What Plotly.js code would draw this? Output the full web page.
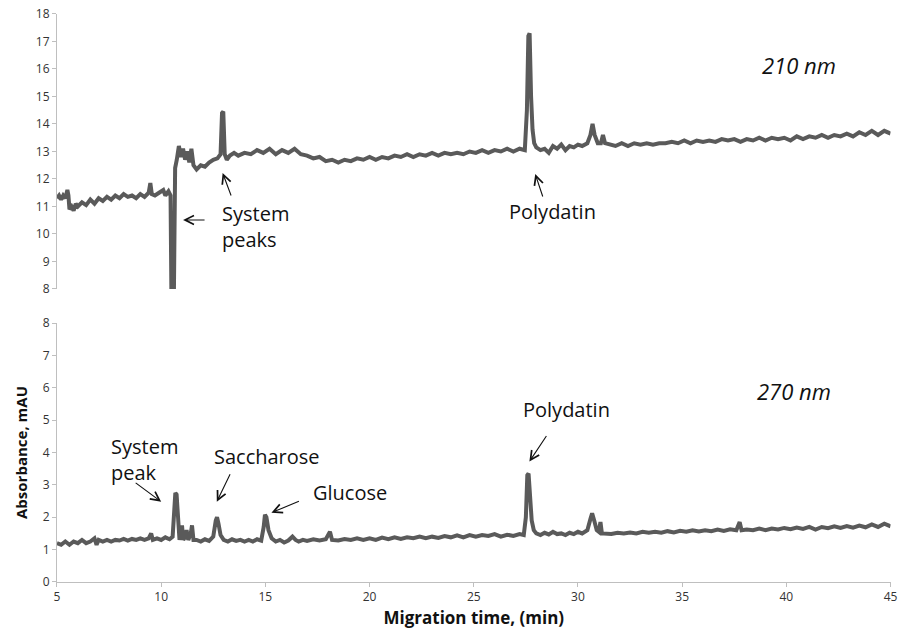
<!DOCTYPE html>
<html>
<head>
<meta charset="utf-8">
<script src="https://cdn.plot.ly/plotly-3.0.1.min.js"></script>
<style>html,body{margin:0;padding:0;background:#fff;}#chart{width:900px;height:630px;}</style>
</head>
<body>
<div id="chart"></div>
<script>
// 210 nm trace (top panel)
var time210 = [5.0,5.1,5.2,5.3,5.4,5.5,5.55,5.6,5.7,5.8,5.9,6.0,6.2,6.4,6.6,6.8,7.0,7.2,7.4,7.6,7.8,8.0,8.2,8.4,8.6,8.8,9.0,9.2,9.4,9.48,9.55,9.7,9.9,10.1,10.2,10.35,10.45,10.5,10.6,10.67,10.75,10.85,10.95,11.05,11.15,11.25,11.35,11.45,11.55,11.7,11.9,12.1,12.3,12.5,12.7,12.85,12.92,12.98,13.05,13.15,13.3,13.5,13.7,14.0,14.3,14.6,14.9,15.2,15.5,15.8,16.1,16.4,16.7,17.0,17.3,17.6,17.9,18.2,18.5,18.8,19.1,19.4,19.7,20.0,20.3,20.6,20.9,21.2,21.5,21.8,22.1,22.4,22.7,23.0,23.3,23.6,23.9,24.2,24.5,24.8,25.1,25.4,25.7,26.0,26.3,26.6,26.9,27.2,27.45,27.55,27.62,27.68,27.75,27.82,27.9,28.0,28.2,28.4,28.6,28.8,29.0,29.2,29.4,29.6,29.8,30.0,30.2,30.45,30.6,30.7,30.8,30.95,31.1,31.2,31.3,31.5,31.8,32.1,32.4,32.7,33.0,33.3,33.6,33.9,34.2,34.5,34.8,35.1,35.4,35.7,36.0,36.3,36.6,36.9,37.2,37.5,37.8,38.1,38.4,38.7,39.0,39.3,39.6,39.9,40.2,40.5,40.8,41.1,41.4,41.7,42.0,42.3,42.6,42.9,43.2,43.5,43.8,44.1,44.4,44.7,45.0];
var abs210 = [11.3,11.4,11.25,11.4,11.3,11.6,11.4,10.9,11.0,10.85,11.1,11.0,11.15,11.05,11.25,11.1,11.3,11.2,11.35,11.25,11.4,11.3,11.45,11.35,11.4,11.3,11.45,11.35,11.5,11.85,11.45,11.4,11.5,11.6,11.4,11.55,11.4,7.0,7.0,12.4,12.7,13.2,12.8,13.1,12.7,13.0,12.6,13.1,12.5,12.35,12.5,12.45,12.6,12.7,12.75,12.9,14.4,14.45,12.9,12.7,12.85,12.95,12.85,12.95,12.9,13.05,12.95,13.1,12.9,13.05,12.95,13.1,12.9,12.85,12.75,12.8,12.65,12.7,12.6,12.7,12.65,12.75,12.7,12.8,12.7,12.8,12.75,12.85,12.8,12.9,12.8,12.9,12.85,12.95,12.85,12.95,12.9,12.95,12.9,13.0,12.95,13.05,12.95,13.05,13.0,13.1,13.0,13.1,13.05,14.5,17.2,17.3,15.0,13.8,13.3,13.15,13.05,13.1,12.95,13.2,13.1,13.25,13.05,13.2,13.15,13.25,13.2,13.3,13.6,14.0,13.6,13.3,13.3,13.6,13.3,13.25,13.2,13.3,13.2,13.3,13.25,13.3,13.25,13.3,13.3,13.35,13.3,13.4,13.3,13.4,13.35,13.4,13.35,13.45,13.4,13.45,13.35,13.45,13.4,13.5,13.4,13.5,13.45,13.5,13.4,13.55,13.45,13.55,13.5,13.6,13.5,13.6,13.55,13.65,13.55,13.7,13.6,13.75,13.6,13.75,13.65];

// 270 nm trace (bottom panel)
var time270 = [5.0,5.2,5.4,5.6,5.8,6.0,6.2,6.4,6.6,6.8,6.9,7.0,7.2,7.4,7.6,7.8,8.0,8.2,8.4,8.6,8.8,9.0,9.2,9.4,9.52,9.6,9.8,10.0,10.2,10.4,10.55,10.62,10.68,10.74,10.8,10.88,10.95,11.0,11.06,11.15,11.22,11.3,11.42,11.48,11.55,11.7,11.9,12.1,12.3,12.5,12.62,12.68,12.75,12.85,13.0,13.2,13.4,13.6,13.8,14.0,14.2,14.4,14.6,14.8,14.92,14.98,15.05,15.15,15.3,15.5,15.7,15.9,16.1,16.3,16.45,16.6,16.8,17.0,17.3,17.6,17.9,18.1,18.2,18.5,18.8,19.1,19.4,19.7,20.0,20.3,20.6,20.9,21.2,21.5,21.8,22.1,22.4,22.7,23.0,23.3,23.6,23.9,24.2,24.5,24.8,25.1,25.4,25.7,26.0,26.3,26.6,26.9,27.2,27.4,27.5,27.57,27.63,27.7,27.78,27.88,28.0,28.2,28.4,28.6,28.8,29.0,29.2,29.4,29.6,29.8,30.0,30.2,30.45,30.6,30.68,30.78,30.9,31.0,31.08,31.15,31.3,31.6,31.9,32.2,32.5,32.8,33.1,33.4,33.7,34.0,34.3,34.6,34.9,35.2,35.5,35.8,36.1,36.4,36.7,37.0,37.3,37.6,37.76,37.85,38.1,38.4,38.7,39.0,39.3,39.6,39.9,40.2,40.5,40.8,41.1,41.4,41.7,42.0,42.3,42.6,42.9,43.2,43.5,43.8,44.1,44.4,44.7,45.0];
var abs270 = [1.2,1.15,1.25,1.15,1.25,1.2,1.3,1.2,1.25,1.35,1.15,1.3,1.25,1.3,1.25,1.3,1.28,1.33,1.28,1.33,1.3,1.35,1.3,1.35,1.5,1.3,1.35,1.3,1.38,1.32,1.4,2.5,2.75,2.7,1.8,1.3,1.5,1.75,1.3,1.4,1.6,1.3,1.5,1.75,1.3,1.3,1.25,1.32,1.27,1.4,1.9,2.0,1.8,1.45,1.3,1.25,1.32,1.27,1.3,1.25,1.3,1.25,1.32,1.28,1.7,2.08,2.0,1.6,1.35,1.25,1.3,1.22,1.28,1.4,1.3,1.25,1.3,1.27,1.32,1.28,1.32,1.55,1.3,1.28,1.33,1.3,1.35,1.3,1.35,1.3,1.37,1.32,1.38,1.33,1.38,1.35,1.4,1.35,1.4,1.36,1.42,1.38,1.44,1.38,1.45,1.4,1.45,1.42,1.48,1.4,1.46,1.42,1.48,1.45,2.0,3.3,3.35,2.6,1.9,1.6,1.5,1.45,1.52,1.47,1.55,1.48,1.5,1.45,1.52,1.48,1.55,1.5,1.6,1.95,2.12,1.9,1.6,1.55,1.85,1.5,1.5,1.48,1.52,1.5,1.53,1.5,1.55,1.52,1.55,1.52,1.57,1.53,1.58,1.55,1.6,1.56,1.6,1.57,1.62,1.58,1.63,1.6,1.85,1.6,1.62,1.6,1.65,1.6,1.65,1.62,1.67,1.63,1.68,1.64,1.7,1.62,1.7,1.66,1.72,1.67,1.73,1.68,1.74,1.69,1.78,1.7,1.8,1.72];

var xTicks = [5,10,15,20,25,30,35,40,45];
var yTicksTop = [8,9,10,11,12,13,14,15,16,17,18];
var yTicksBottom = [0,1,2,3,4,5,6,7,8];

var lineStyle = {color:'#5a5a5a', width:4};
var traces = [
  {x:time210, y:abs210, xaxis:'x', yaxis:'y2', mode:'lines', line:lineStyle, hoverinfo:'none'},
  {x:time270, y:abs270, xaxis:'x', yaxis:'y', mode:'lines', line:lineStyle, hoverinfo:'none'}
];

var F = '"Open Sans", "Noto Sans", sans-serif';
var tickFont = {family:F, size:12, color:'#333333'};
var axisCommon = {showline:true, linecolor:'#bfbfbf', linewidth:1, ticks:'outside', ticklen:4, tickcolor:'#bfbfbf', showgrid:false, zeroline:false, tickfont:tickFont};

function ann(x, y, text, ref, opts) {
  var a = {x:x, y:y, xref:'x', yref:ref, text:text, showarrow:false, font:{family:F, size:20, color:'#111'}};
  for (var k in opts) a[k] = opts[k];
  return a;
}
function arrow(x, y, ax, ay, ref) {
  return {x:x, y:y, xref:'x', yref:ref, text:'', showarrow:true, ax:ax, ay:ay, arrowhead:5, arrowsize:1.6, arrowwidth:1.1, arrowcolor:'#111', standoff:0};
}
var nmFont = {family:F, size:22, color:'#111'};

var layout = {
  width:900, height:630,
  margin:{l:0, r:0, t:0, b:0},
  paper_bgcolor:'#ffffff', plot_bgcolor:'rgba(0,0,0,0)',
  showlegend:false,
  font:{family:F},
  xaxis: Object.assign({}, axisCommon, {domain:[0.0633,0.9895], range:[5,45], tickvals:xTicks, anchor:'y',
    title:{text:'<b>Migration time, (min)</b>', font:{family:F, size:17, color:'#111'}, standoff:7}}),
  yaxis: Object.assign({}, axisCommon, {domain:[0.0762,0.4873], range:[0,8], tickvals:yTicksBottom, anchor:'x',
    title:{text:'<b>Absorbance, mAU</b>', font:{family:F, size:15, color:'#111'}, standoff:11}}),
  yaxis2: Object.assign({}, axisCommon, {domain:[0.5413,0.9778], range:[8,18], tickvals:yTicksTop, anchor:'x'}),
  annotations: [
    ann(40.62, 16.15, '<i>210 nm</i>', 'y2', {font:nmFont}),
    ann(12.81, 10.27, 'System<br>peaks', 'y2', {xanchor:'left', align:'left'}),
    arrow(11.05, 10.51, 23, 0, 'y2'),
    arrow(12.95, 12.22, 9, 24, 'y2'),
    ann(28.76, 10.8, 'Polydatin', 'y2', {}),
    arrow(27.95, 12.18, 8, 24, 'y2'),
    ann(40.38, 5.91, '<i>270 nm</i>', 'y', {font:nmFont}),
    ann(29.43, 5.33, 'Polydatin', 'y', {}),
    arrow(27.67, 3.72, 18, -27, 'y'),
    ann(7.52, 3.79, 'System<br>peak', 'y', {xanchor:'left', align:'left'}),
    arrow(10.0, 2.48, -27, -20, 'y'),
    ann(12.43, 3.87, 'Saccharose', 'y', {xanchor:'left'}),
    arrow(12.67, 2.48, 14, -29, 'y'),
    ann(17.19, 2.76, 'Glucose', 'y', {xanchor:'left'}),
    arrow(15.29, 2.14, 29, -12, 'y')
  ]
};

Plotly.newPlot('chart', traces, layout, {staticPlot:true, displayModeBar:false});
</script>
</body>
</html>
